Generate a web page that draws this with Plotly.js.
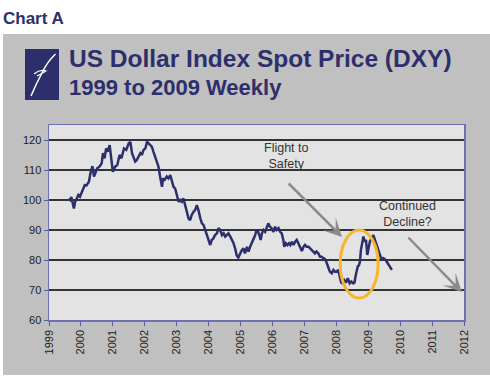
<!DOCTYPE html>
<html>
<head>
<meta charset="utf-8">
<script src="https://cdn.plot.ly/plotly-3.0.1.min.js"></script>
<style>html,body{margin:0;padding:0;background:#fff;}#chart{width:490px;height:376px;}</style>
</head>
<body>
<div id="chart"></div>
<script>
// Weekly DXY (decimal years)
const dates = [
1999.62,1999.66,1999.70,1999.74,1999.78,1999.82,1999.87,1999.92,1999.97,2000.02,
2000.06,2000.12,2000.17,2000.20,2000.25,2000.30,2000.36,2000.41,2000.46,2000.51,
2000.58,2000.65,2000.69,2000.74,2000.79,2000.84,2000.90,2000.96,2001.00,2001.07,
2001.14,2001.21,2001.27,2001.35,2001.42,2001.50,2001.55,2001.60,2001.65,2001.70,
2001.75,2001.80,2001.86,2001.91,2001.96,2002.02,2002.07,2002.12,2002.17,2002.22,
2002.27,2002.33,2002.38,2002.43,2002.48,2002.54,2002.57,2002.62,2002.69,2002.74,
2002.80,2002.85,2002.90,2002.95,2003.00,2003.06,2003.11,2003.16,2003.21,2003.27,
2003.32,2003.37,2003.42,2003.47,2003.53,2003.58,2003.63,2003.68,2003.74,2003.79,
2003.84,2003.89,2003.94,2003.99,2004.05,2004.10,2004.15,2004.20,2004.26,2004.31,
2004.36,2004.42,2004.47,2004.52,2004.57,2004.62,2004.68,2004.73,2004.78,2004.83,
2004.88,2004.93,2004.98,2005.04,2005.09,2005.14,2005.20,2005.25,2005.30,2005.35,
2005.40,2005.46,2005.50,2005.55,2005.59,2005.63,2005.67,2005.72,2005.77,2005.82,
2005.87,2005.92,2005.97,2006.03,2006.08,2006.13,2006.19,2006.24,2006.29,2006.34,
2006.37,2006.42,2006.47,2006.52,2006.56,2006.61,2006.66,2006.71,2006.76,2006.81,
2006.87,2006.92,2006.97,2007.02,2007.07,2007.13,2007.18,2007.23,2007.28,2007.33,
2007.38,2007.44,2007.49,2007.54,2007.60,2007.65,2007.70,2007.75,2007.80,2007.86,
2007.91,2007.96,2008.01,2008.06,2008.10,2008.15,2008.20,2008.25,2008.31,2008.36,
2008.42,2008.47,2008.53,2008.57,2008.60,2008.64,2008.67,2008.71,2008.74,2008.77,
2008.81,2008.85,2008.89,2008.93,2008.97,2009.01,2009.05,2009.10,2009.16,2009.20,
2009.24,2009.28,2009.32,2009.37,2009.42,2009.47,2009.53,2009.58,2009.64,2009.70,
2009.74
];
const dxy = [
100.5,100,101,99,97.2,99.4,100.5,101.7,101.1,102.5,
103.9,105,104.8,105.5,106.1,109,111.3,107.8,109.1,110.6,
111.1,112.2,115.6,113.9,117.2,116.1,118.3,113.3,109.4,111.1,
111.7,115,113.9,117.2,116.7,118.9,119.4,115.6,113.9,112.8,
113.3,114.4,115.6,115,116.7,117.2,119.4,118.9,118.3,117.8,
116.1,114.4,112.8,111.1,107.8,104.4,107.2,106.7,107.8,107.2,
108.3,106.7,104.4,103.9,102.2,99.4,100,99.4,100.6,98.3,
96.1,93.9,93.3,95,96.1,96.7,98.3,96.7,93.9,92.2,
91.7,90,88.3,86.7,85,86.7,87.2,88.3,88.9,90.6,
90,88.3,88.9,87.8,88.3,88.9,87.8,86.7,85.6,83.9,
81.5,80.8,82,83.3,83.9,82.2,84.4,82.8,84.4,85.6,
86.7,88.3,90,89.4,88.3,86.7,88.9,90,89.4,91.1,
92.2,91.1,90.6,89.4,91.1,90,90.6,89.4,88.9,86.7,
84.4,85.6,85,85.6,85,86.1,85,86.1,86.7,85.6,
84.4,83,84.4,85,84.4,84.4,83.9,83.3,82.8,82.2,
82.8,82.2,81.1,81.1,80.6,80.3,79,77.8,76.1,75.6,
76.7,76.1,76.1,76.7,75,72.5,72.2,73.3,72.5,73.9,
72.2,72.8,72.2,72.5,74.4,76.7,77.8,78.3,79.4,83.3,
86,87.8,86.1,86.7,81.7,84,86.1,87.2,88.3,87,
85.6,84.8,82.8,81.7,80,80.6,80.2,79.4,78.3,77.2,
76.7
];
const xTickVals = [1999,2000,2001,2002,2003,2004,2005,2006,2007,2008,2009,2010,2011,2012];
const xTickLabels = ["1999","2000","2001","2002","2003","2004","2005","2006","2007","2008","2009","2010","2011","2012"];
const yTickVals = [60,70,80,90,100,110,120];
const yTickLabels = ["60","70","80","90","100","110","120"];

const header = "Chart A";
const title1 = "US Dollar Index Spot Price (DXY)";
const title2 = "1999 to 2009 Weekly";
const note1 = ["Flight to", "Safety"];
const note2 = ["Continued", "Decline?"];

// pixel -> paper helpers (plot area: x 49..464, y 125..320)
const L = 49, R = 464, T = 125, B = 320;
const PX = p => (p - L) / (R - L);
const PY = p => (B - p) / (B - T);

const navy = "#2d2f6c";
const font = "Liberation Sans, Arial, sans-serif";

const bird = "M " + PX(55.5) + " " + PY(54) +
  " Q " + PX(47) + " " + PY(62) + " " + PX(42) + " " + PY(73) +
  " Q " + PX(36) + " " + PY(84) + " " + PX(31) + " " + PY(96);
const wing = "M " + PX(34) + " " + PY(74) +
  " Q " + PX(40) + " " + PY(69) + " " + PX(46) + " " + PY(71) +
  " Q " + PX(41) + " " + PY(74) + " " + PX(37) + " " + PY(76);

const layout = {
  width: 490, height: 376,
  margin: {l: L, r: 490 - R, t: T, b: 376 - B, pad: 0},
  paper_bgcolor: "#ffffff",
  plot_bgcolor: "#e3e3e3",
  showlegend: false,
  font: {family: font, size: 11, color: "#222"},
  xaxis: {
    range: [1999, 2012], tickmode: "array", tickvals: xTickVals, ticktext: xTickLabels,
    tickangle: -90, ticks: "outside", ticklen: 4, tickcolor: "#5a5aa0", tickwidth: 1,
    showgrid: false, zeroline: false, showline: true, linecolor: "#6e6eb4", linewidth: 1.5, mirror: true,
    tickfont: {family: font, size: 11, color: "#222"}, fixedrange: true
  },
  yaxis: {
    range: [60, 125], tickmode: "array", tickvals: yTickVals, ticktext: yTickLabels,
    ticks: "outside", ticklen: 4, tickcolor: "#5a5aa0", tickwidth: 1,
    showgrid: true, gridcolor: "#333333", gridwidth: 1.2, zeroline: false,
    showline: true, linecolor: "#6e6eb4", linewidth: 1.5, mirror: true,
    tickfont: {family: font, size: 11, color: "#222"}, fixedrange: true
  },
  shapes: [
    {type: "rect", xref: "paper", yref: "paper", layer: "below",
     x0: PX(3), x1: PX(492), y0: PY(375), y1: PY(34), fillcolor: "#c0c0c0", line: {width: 0}},
    {type: "rect", xref: "paper", yref: "paper", layer: "below",
     x0: 0, x1: 1, y0: 0, y1: 1, fillcolor: "#e3e3e3", line: {width: 0}},
    {type: "rect", xref: "paper", yref: "paper", layer: "above",
     x0: PX(25), x1: PX(59), y0: PY(100), y1: PY(49), fillcolor: navy, line: {width: 0}},
    {type: "path", xref: "paper", yref: "paper", path: bird, line: {color: "#ffffff", width: 1.5}},
    {type: "path", xref: "paper", yref: "paper", path: wing, line: {color: "#ffffff", width: 1.2}},
    {type: "circle", xref: "x", yref: "y", x0: 2008.12, x1: 2009.31, y0: 67.3, y1: 90,
     line: {color: "#f7b52c", width: 3}}
  ],
  annotations: [
    {text: header, xref: "paper", yref: "paper", x: PX(1), y: PY(19), xanchor: "left", yanchor: "middle",
     showarrow: false, font: {family: font, size: 17, color: navy, weight: "bold"}},
    {text: "<b>" + title1 + "</b>", xref: "paper", yref: "paper", x: PX(67), y: PY(58), xanchor: "left", yanchor: "middle",
     showarrow: false, font: {family: font, size: 24.5, color: navy}},
    {text: "<b>" + title2 + "</b>", xref: "paper", yref: "paper", x: PX(67), y: PY(87), xanchor: "left", yanchor: "middle",
     showarrow: false, font: {family: font, size: 22, color: navy}},
    {text: note1.join("<br>"), xref: "x", yref: "y", x: 2006.45, y: 114.8, showarrow: false, xanchor: "center", yanchor: "middle",
     align: "center", font: {family: font, size: 12.5, color: "#333"}},
    {text: note2.join("<br>"), xref: "x", yref: "y", x: 2010.24, y: 95.3, showarrow: false, xanchor: "center", yanchor: "middle",
     align: "center", font: {family: font, size: 12.5, color: "#333"}},
    {text: "", xref: "x", yref: "y", axref: "x", ayref: "y", x: 2008.18, y: 87.7, ax: 2006.46, ay: 106,
     showarrow: true, arrowhead: 3, arrowsize: 1.2, arrowwidth: 2.5, arrowcolor: "#8a8a8a", standoff: 0},
    {text: "", xref: "x", yref: "y", axref: "x", ayref: "y", x: 2011.93, y: 69.3, ax: 2010.21, ay: 88,
     showarrow: true, arrowhead: 3, arrowsize: 1.2, arrowwidth: 2.5, arrowcolor: "#8a8a8a", standoff: 0}
  ]
};

const trace = {
  type: "scatter", mode: "lines", x: dates, y: dxy,
  line: {color: navy, width: 2.5}, hoverinfo: "skip"
};

Plotly.newPlot("chart", [trace], layout, {staticPlot: true, displayModeBar: false});
</script>
</body>
</html>
